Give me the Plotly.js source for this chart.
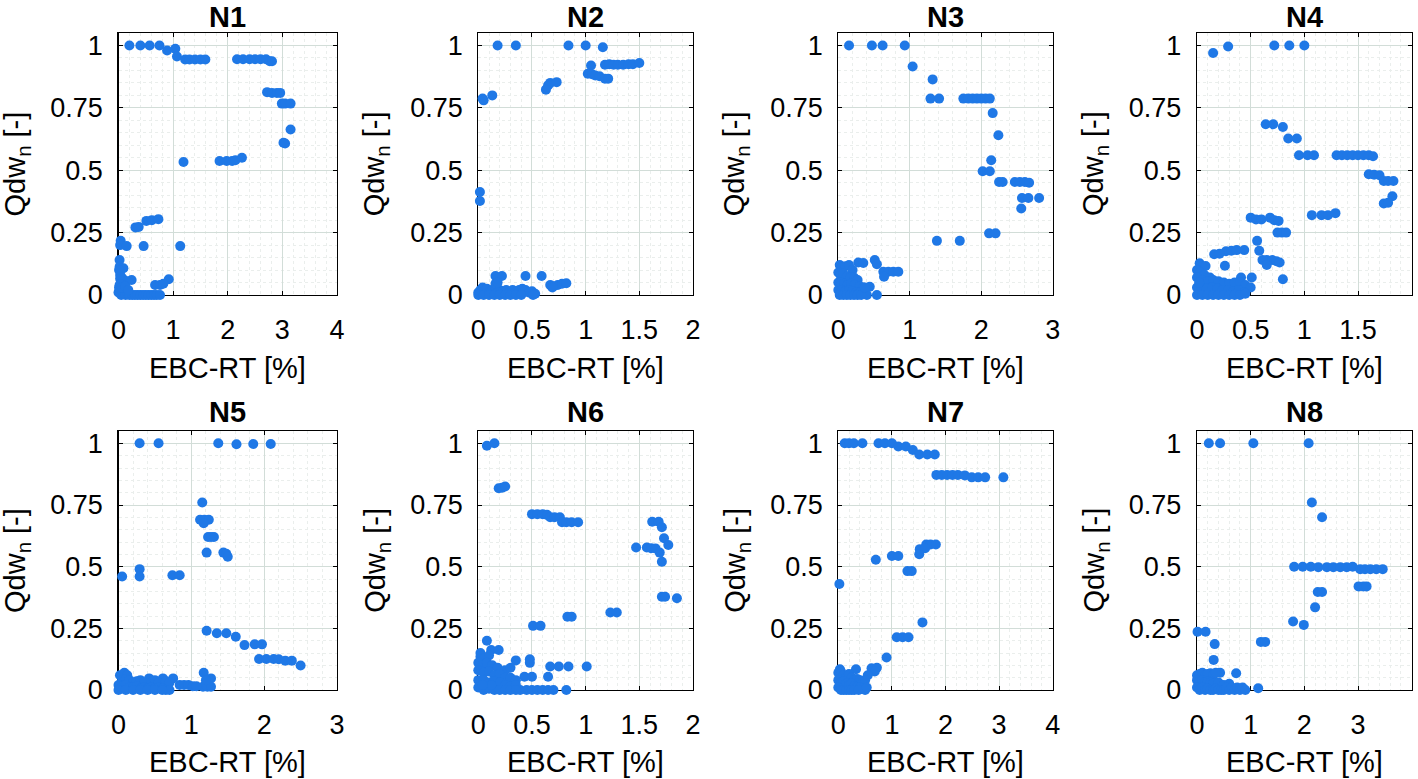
<!DOCTYPE html>
<html><head><meta charset="utf-8">
<script src="https://cdn.plot.ly/plotly-3.0.1.min.js"></script>
<style>html,body{margin:0;padding:0;background:#fff}#chart{width:1418px;height:779px}</style>
</head><body><div id="chart"></div>
<script>
const panelNames = ['N1','N2','N3','N4','N5','N6','N7','N8'];
const xMax = [4,2,3,2,3,2,4,4];
const xTickStep = [1,0.5,1,0.5,1,0.5,1,1];
const yTickVals = [0,0.25,0.5,0.75,1];
const yTickText = ['0','0.25','0.5','0.75','1'];
const xTitleText = 'EBC-RT [%]';
const yTitleText = 'Qdw<sub>n</sub> [-]';

// [EBC-RT, Qdw_n] pairs
const n1 = [[0.20,1],[0.40,1],[0.57,1],[0.75,1],[0.89,0.98],[1.04,0.987],[1.07,0.956],
 [1.22,0.944],[1.30,0.944],[1.40,0.944],[1.50,0.944],[1.59,0.944],
 [2.17,0.945],[2.28,0.945],[2.40,0.945],[2.50,0.945],[2.60,0.945],[2.70,0.945],[2.77,0.937],[2.81,0.937],
 [2.72,0.813],[2.81,0.81],[2.90,0.81],[2.96,0.81],[2.99,0.767],[3.05,0.767],[3.15,0.767],[3.15,0.663],
 [3.02,0.61],[3.05,0.607],[1.19,0.533],[1.85,0.537],[1.98,0.537],[2.08,0.537],[2.14,0.54],[2.26,0.55],
 [0.31,0.271],[0.37,0.273],[0.51,0.297],[0.61,0.30],[0.73,0.304],
 [0.04,0.217],[0.03,0.20],[0.15,0.196],[0.46,0.196],[1.13,0.196],[0.02,0.14],[0.02,0.113],[0.09,0.107],
 [0.03,0.065],[0.06,0.07],[0.10,0.06],[0.15,0.055],[0.24,0.06],[0.92,0.063],[0.67,0.04],[0.76,0.04],[0.82,0.045],
 [0.00,0.01],[0.02,0.02],[0.05,0.0],[0.08,0.01],[0.10,0.025],[0.13,0.0],[0.17,0.005],[0.20,0.0],[0.25,0.0],
 [0.30,0.0],[0.35,0.0],[0.40,0.0],[0.45,0.0],[0.50,0.0],[0.55,0.0],[0.60,0.0],[0.65,0.0],[0.70,0.0],[0.76,0.0],
 [0.02,0.04],[0.01,0.03],[0.04,0.045],[0.03,0.08],[0.01,0.10],[0.06,0.03],[0.12,0.035],[0.18,0.02]];
const n2 = [[0.18,1],[0.35,1],[0.84,1],[1.00,1],[1.16,0.993],
 [1.05,0.92],[1.18,0.923],[1.22,0.925],[1.26,0.923],[1.30,0.923],[1.35,0.923],[1.40,0.925],[1.44,0.925],[1.50,0.93],
 [1.02,0.887],[1.06,0.885],[1.09,0.88],[1.13,0.877],[1.18,0.867],[1.21,0.867],
 [0.67,0.85],[0.73,0.853],[0.65,0.84],[0.63,0.823],[0.13,0.80],[0.04,0.787],[0.05,0.78],
 [0.015,0.413],[0.015,0.377],[0.16,0.076],[0.22,0.076],[0.44,0.076],[0.59,0.076],
 [0.67,0.04],[0.70,0.035],[0.74,0.04],[0.78,0.045],[0.82,0.047],[0.69,0.03],
 [0.00,0.01],[0.02,0.02],[0.04,0.03],[0.06,0.015],[0.08,0.025],[0.10,0.01],[0.13,0.02],[0.16,0.03],[0.18,0.01],
 [0.20,0.02],[0.23,0.015],[0.26,0.02],[0.29,0.01],[0.32,0.02],[0.35,0.015],[0.38,0.02],[0.41,0.025],[0.44,0.02],
 [0.47,0.01],[0.50,0.015],[0.53,0.005],[0.51,0.0],[0.00,0.0],[0.05,0.0],[0.10,0.0],[0.15,0.0],[0.20,0.0],
 [0.25,0.0],[0.30,0.0],[0.35,0.0],[0.40,0.0],[0.16,0.045],[0.18,0.05]];
const n3 = [[0.15,1],[0.47,1],[0.62,1],[0.93,1],[1.04,0.916],[1.32,0.864],[1.29,0.787],[1.41,0.787],
 [1.75,0.787],[1.82,0.787],[1.88,0.787],[1.94,0.787],[2.00,0.787],[2.06,0.787],[2.12,0.787],[2.16,0.729],
 [2.24,0.64],[2.14,0.54],[2.02,0.496],[2.12,0.496],[2.25,0.453],[2.30,0.453],[2.47,0.453],[2.54,0.453],
 [2.61,0.453],[2.67,0.45],[2.57,0.389],[2.66,0.389],[2.81,0.389],[2.56,0.347],[2.11,0.247],[2.20,0.247],
 [1.38,0.217],[1.70,0.217],
 [0.28,0.13],[0.35,0.128],[0.51,0.14],[0.54,0.123],[0.63,0.093],[0.70,0.093],[0.77,0.093],[0.84,0.093],
 [0.64,0.073],[0.44,0.033],[0.54,0.0],
 [0.02,0.12],[0.05,0.11],[0.10,0.115],[0.15,0.12],[0.20,0.10],[0.00,0.09],[0.03,0.08],[0.07,0.085],[0.12,0.075],
 [0.17,0.07],[0.22,0.07],[0.27,0.06],[0.00,0.05],[0.04,0.05],[0.08,0.045],[0.13,0.04],[0.18,0.045],[0.23,0.04],
 [0.30,0.035],[0.35,0.03],[0.00,0.02],[0.05,0.02],[0.10,0.015],[0.15,0.02],[0.20,0.015],[0.25,0.01],[0.30,0.01],
 [0.35,0.005],[0.40,0.0],[0.02,0.0],[0.07,0.0],[0.12,0.0],[0.17,0.0],[0.22,0.0],[0.27,0.0],[0.32,0.0],[0.37,0.03]];
const n4 = [[0.15,0.97],[0.29,0.996],[0.72,1],[0.86,1],[1.00,1],
 [0.64,0.684],[0.71,0.684],[0.80,0.673],[0.85,0.627],[0.93,0.627],
 [0.95,0.56],[1.03,0.56],[1.09,0.56],[1.30,0.56],[1.35,0.56],[1.40,0.56],[1.45,0.56],[1.50,0.56],[1.55,0.56],[1.60,0.56],[1.64,0.556],
 [1.60,0.484],[1.65,0.482],[1.70,0.48],[1.74,0.457],[1.78,0.457],[1.83,0.457],[1.82,0.396],[1.74,0.367],[1.78,0.37],
 [1.07,0.32],[1.16,0.32],[1.22,0.32],[1.29,0.328],
 [0.50,0.31],[0.55,0.303],[0.60,0.303],[0.68,0.31],[0.72,0.30],[0.76,0.297],[0.75,0.25],[0.79,0.25],[0.83,0.25],
 [0.56,0.217],[0.58,0.177],[0.27,0.175],[0.32,0.177],[0.37,0.18],[0.44,0.18],[0.16,0.163],[0.21,0.165],
 [0.61,0.14],[0.65,0.14],[0.70,0.14],[0.74,0.135],[0.77,0.13],[0.65,0.12],[0.025,0.127],[0.08,0.116],[0.26,0.117],
 [0.80,0.063],[0.12,0.07],[0.41,0.07],[0.51,0.07],
 [0.00,0.10],[0.03,0.09],[0.07,0.08],[0.00,0.07],[0.05,0.06],[0.10,0.055],[0.15,0.06],[0.20,0.055],[0.25,0.05],
 [0.30,0.045],[0.35,0.05],[0.40,0.05],[0.45,0.04],[0.50,0.03],[0.00,0.03],[0.04,0.03],[0.09,0.025],[0.14,0.03],
 [0.19,0.025],[0.24,0.02],[0.29,0.02],[0.34,0.015],[0.39,0.02],[0.44,0.01],[0.00,0.0],[0.05,0.0],[0.10,0.0],
 [0.15,0.0],[0.20,0.0],[0.25,0.0],[0.30,0.0],[0.35,0.0],[0.40,0.0],[0.45,0.005],[0.02,0.05]];
const n5 = [[0.29,1],[0.55,1],[1.37,1],[1.62,0.996],[1.85,0.997],[2.09,0.997],
 [1.15,0.76],[1.12,0.69],[1.18,0.69],[1.24,0.69],[1.17,0.676],[1.23,0.62],[1.27,0.62],[1.31,0.62],
 [1.21,0.557],[1.44,0.557],[1.48,0.552],[1.50,0.54],
 [0.05,0.46],[0.29,0.49],[0.29,0.46],[0.74,0.465],[0.84,0.465],
 [1.21,0.24],[1.35,0.23],[1.48,0.23],[1.61,0.216],[1.73,0.182],[1.87,0.185],[1.97,0.185],
 [1.93,0.126],[2.03,0.126],[2.13,0.126],[2.20,0.125],[2.29,0.119],[2.38,0.119],[2.50,0.099],
 [1.17,0.07],[1.27,0.047],[1.16,0.013],[1.22,0.013],[1.27,0.013],[1.20,0.04],
 [0.84,0.02],[0.90,0.02],[0.96,0.02],[1.02,0.015],[1.07,0.015],[0.42,0.047],[0.61,0.047],[0.75,0.047],
 [0.02,0.06],[0.08,0.07],[0.12,0.06],[0.05,0.04],[0.10,0.045],[0.15,0.04],[0.20,0.03],[0.25,0.035],[0.30,0.04],
 [0.35,0.03],[0.45,0.03],[0.50,0.04],[0.55,0.03],[0.65,0.035],[0.70,0.03],[0.00,0.02],[0.05,0.015],[0.10,0.02],
 [0.15,0.01],[0.20,0.01],[0.25,0.015],[0.30,0.005],[0.35,0.01],[0.40,0.005],[0.45,0.01],[0.50,0.005],[0.55,0.01],
 [0.60,0.005],[0.65,0.0],[0.70,0.0],[0.00,0.0],[0.10,0.0],[0.20,0.0],[0.30,0.0],[0.40,0.0],[0.50,0.0],[0.60,0.0]];
const n6 = [[0.08,0.99],[0.15,1.0],[0.19,0.818],[0.22,0.82],[0.25,0.825],
 [0.50,0.713],[0.55,0.713],[0.60,0.713],[0.64,0.71],[0.67,0.70],[0.71,0.70],[0.76,0.70],
 [0.78,0.68],[0.82,0.68],[0.87,0.68],[0.93,0.68],
 [1.62,0.682],[1.68,0.682],[1.71,0.66],[1.73,0.615],[1.77,0.588],
 [1.47,0.578],[1.57,0.578],[1.61,0.575],[1.65,0.574],[1.69,0.557],[1.71,0.52],
 [1.71,0.378],[1.74,0.378],[1.85,0.372],[1.23,0.314],[1.29,0.314],[0.83,0.297],[0.87,0.297],[0.51,0.26],[0.58,0.26],
 [0.08,0.20],[0.12,0.162],[0.19,0.162],[0.02,0.135],[0.48,0.125],[0.48,0.11],[0.35,0.12],
 [0.67,0.095],[0.75,0.095],[0.84,0.095],[1.01,0.095],[0.43,0.054],[0.50,0.054],[0.65,0.054],
 [0.39,0.0],[0.45,0.0],[0.50,0.0],[0.55,0.0],[0.60,0.0],[0.65,0.0],[0.70,0.0],[0.82,0.0],
 [0.02,0.15],[0.06,0.13],[0.10,0.14],[0.00,0.11],[0.04,0.10],[0.08,0.11],[0.13,0.10],[0.18,0.09],[0.25,0.08],
 [0.30,0.09],[0.00,0.08],[0.05,0.07],[0.10,0.075],[0.15,0.06],[0.20,0.065],[0.25,0.05],[0.30,0.05],[0.35,0.04],
 [0.00,0.04],[0.05,0.04],[0.10,0.03],[0.15,0.035],[0.20,0.03],[0.25,0.02],[0.30,0.015],[0.35,0.02],[0.00,0.01],
 [0.05,0.0],[0.10,0.005],[0.15,0.0],[0.20,0.0],[0.25,0.0],[0.30,0.0],[0.35,0.0],[0.12,0.02],[0.04,0.02]];
const n7 = [[0.12,1],[0.20,1],[0.29,1],[0.45,1],[0.75,1],[0.87,1],[1.00,1.0],[1.12,0.987],[1.26,0.987],[1.39,0.973],
 [1.51,0.955],[1.66,0.955],[1.80,0.955],
 [1.83,0.872],[1.93,0.872],[2.03,0.872],[2.13,0.872],[2.23,0.872],[2.36,0.87],[2.49,0.862],[2.61,0.862],[2.74,0.862],[3.08,0.862],
 [1.64,0.59],[1.72,0.59],[1.82,0.59],[1.52,0.571],[1.62,0.575],[1.51,0.55],
 [1.00,0.543],[1.12,0.543],[0.70,0.528],[1.29,0.482],[1.37,0.482],[0.02,0.43],[1.57,0.274],
 [1.09,0.214],[1.20,0.214],[1.31,0.214],[0.90,0.132],
 [0.62,0.088],[0.72,0.09],[0.33,0.084],[0.03,0.084],[0.68,0.075],[0.55,0.06],
 [0.00,0.07],[0.05,0.075],[0.10,0.06],[0.15,0.05],[0.20,0.065],[0.25,0.05],[0.30,0.04],[0.35,0.045],[0.40,0.04],
 [0.45,0.03],[0.50,0.04],[0.00,0.04],[0.05,0.03],[0.10,0.035],[0.15,0.025],[0.20,0.02],[0.25,0.025],[0.30,0.015],
 [0.35,0.01],[0.40,0.01],[0.45,0.005],[0.50,0.0],[0.00,0.01],[0.05,0.0],[0.10,0.0],[0.15,0.0],[0.20,0.0],
 [0.25,0.0],[0.30,0.0],[0.38,0.0],[0.53,0.01]];
const n8 = [[0.22,1],[0.43,1],[1.05,1],[2.08,1],[2.14,0.76],[2.33,0.70],
 [1.81,0.50],[1.97,0.50],[2.12,0.50],[2.26,0.498],[2.42,0.498],[2.54,0.498],[2.67,0.498],[2.79,0.498],[2.90,0.50],
 [3.04,0.49],[3.13,0.49],[3.23,0.49],[3.34,0.49],[3.46,0.49],
 [3.01,0.42],[3.10,0.42],[3.16,0.42],[2.25,0.397],[2.33,0.397],[2.20,0.335],[1.79,0.278],[1.99,0.264],
 [0.01,0.236],[0.16,0.236],[0.33,0.186],[1.19,0.195],[1.27,0.195],[0.31,0.122],
 [0.25,0.068],[0.43,0.07],[0.73,0.068],[1.14,0.007],
 [0.00,0.06],[0.05,0.065],[0.10,0.07],[0.15,0.06],[0.20,0.065],[0.30,0.06],[0.35,0.07],[0.00,0.04],[0.05,0.035],
 [0.10,0.04],[0.15,0.03],[0.20,0.035],[0.25,0.03],[0.30,0.025],[0.40,0.03],[0.50,0.02],[0.60,0.025],[0.00,0.01],
 [0.05,0.0],[0.10,0.01],[0.15,0.0],[0.20,0.005],[0.25,0.0],[0.30,0.0],[0.35,0.005],[0.40,0.0],[0.45,0.0],
 [0.50,0.0],[0.55,0.01],[0.60,0.0],[0.65,0.01],[0.70,0.0],[0.75,0.01],[0.80,0.0],[0.85,0.01],[0.90,0.0]];
const panelData = [n1,n2,n3,n4,n5,n6,n7,n8];

// layout geometry (pixels)
const W = 1418, H = 779;
const colLeft = [118.5, 478.3, 838.3, 1197];
const colRight = [337, 693, 1052.7, 1411.7];
const rowTop = [33, 431];
const rowBottom = [295, 690];
const FONT = 'Liberation Sans, Arial, Helvetica, sans-serif';
const tickSize = 27, labelSize = 29;
const markerColor = '#1f78e6';

const traces = [], annotations = [];
const layout = {
  width: W, height: H, margin: {l:0, r:0, t:0, b:0},
  paper_bgcolor: '#fff', plot_bgcolor: '#fff', showlegend: false,
  font: {family: FONT, size: tickSize, color: '#000'},
  annotations: annotations
};

for (let i = 0; i < 8; i++) {
  const r = Math.floor(i / 4), c = i % 4;
  const sfx = i === 0 ? '' : String(i + 1);
  const pts = panelData[i];
  traces.push({
    type: 'scatter', mode: 'markers',
    x: pts.map(p => p[0]), y: pts.map(p => p[1]),
    xaxis: 'x' + sfx, yaxis: 'y' + sfx,
    cliponaxis: false,
    marker: {color: markerColor, size: 10, line: {width: 0}},
    hoverinfo: 'x+y'
  });
  const common = {
    showline: true, linecolor: '#000', linewidth: 1.2, mirror: 'ticks',
    ticks: 'inside', ticklen: 4, tickwidth: 1, tickcolor: '#000',
    showgrid: true, gridcolor: 'rgb(210,221,216)', gridwidth: 1,
    zeroline: false, layer: 'below traces',
    tickfont: {family: FONT, size: tickSize, color: '#000'}
  };
  layout['xaxis' + sfx] = Object.assign({}, common, {
    domain: [colLeft[c] / W, colRight[c] / W],
    anchor: 'y' + sfx, range: [0, xMax[i]], dtick: xTickStep[i], tick0: 0,
    ticklabelstandoff: 10,
    minor: {dtick: xTickStep[i] / 5, showgrid: true, gridcolor: 'rgb(234,238,236)', griddash: 'dot', gridwidth: 1, ticks: ''}
  });
  layout['yaxis' + sfx] = Object.assign({}, common, {
    domain: [1 - rowBottom[r] / H, 1 - rowTop[r] / H],
    anchor: 'x' + sfx, range: [0, 1.05], tickvals: yTickVals, ticktext: yTickText,
    ticklabelstandoff: 9,
    minor: {tickvals: [0.05,0.1,0.15,0.2,0.3,0.35,0.4,0.45,0.55,0.6,0.65,0.7,0.8,0.85,0.9,0.95,1.0],
            showgrid: true, gridcolor: 'rgb(234,238,236)', griddash: 'dot', gridwidth: 1, ticks: ''}
  });
  const cx = (colLeft[c] + colRight[c]) / 2 / W;
  // panel title
  annotations.push(r === 0 ? {
    text: '<b>' + panelNames[i] + '</b>', xref: 'paper', yref: 'paper',
    x: cx, y: 1, xanchor: 'center', yanchor: 'top', borderpad: 0,
    showarrow: false, font: {family: FONT, size: labelSize, color: '#000'}
  } : {
    text: '<b>' + panelNames[i] + '</b>', xref: 'paper', yref: 'paper',
    x: cx, y: 1 - (rowTop[r] - 19) / H, xanchor: 'center', yanchor: 'middle',
    showarrow: false, font: {family: FONT, size: labelSize, color: '#000'}
  });
  // x axis title
  annotations.push(r === 0 ? {
    text: xTitleText, xref: 'paper', yref: 'paper',
    x: cx, y: 1 - (rowBottom[r] + 73) / H, xanchor: 'center', yanchor: 'middle',
    showarrow: false, font: {family: FONT, size: labelSize, color: '#000'}
  } : {
    text: xTitleText, xref: 'paper', yref: 'paper',
    x: cx, y: 0, xanchor: 'center', yanchor: 'bottom', borderpad: 0,
    showarrow: false, font: {family: FONT, size: labelSize, color: '#000'}
  });
  // y axis title
  annotations.push({
    text: yTitleText, xref: 'paper', yref: 'paper', textangle: -90,
    x: (colLeft[c] - 102) / W, y: 1 - (rowTop[r] + rowBottom[r]) / 2 / H,
    xanchor: 'center', yanchor: 'middle',
    showarrow: false, font: {family: FONT, size: labelSize, color: '#000'}
  });
}

Plotly.newPlot('chart', traces, layout, {displayModeBar: false, staticPlot: true});
</script></body></html>
